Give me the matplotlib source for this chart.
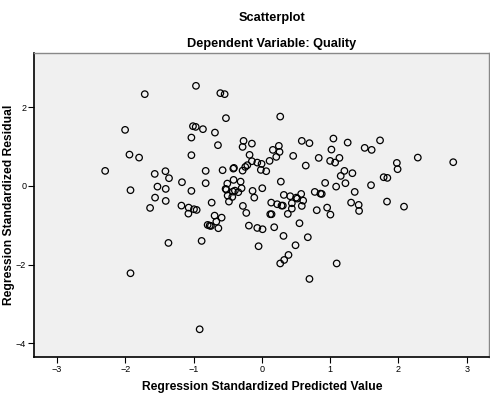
import matplotlib.pyplot as plt
import numpy as np

plt.rcParams['font.family'] = ['Liberation Sans', 'DejaVu Sans']

# regression standardized predicted values
pred = np.array([
    -1.715, -2.003, -1.939, -1.798, -2.295, -1.569, -1.412, -1.360, -1.170, -1.924,
    -1.529, -1.408, -1.564, -1.408, -1.637, -1.178, -1.924, -0.911, -1.368, -0.965,
    -0.608, -0.545, -0.526, 0.269, -1.009, -0.969, -0.863, -0.687, -1.032, -0.643,
    -0.268, -0.282, -0.146, -1.032, 0.249, 0.161, 0.259, 0.211, 0.459, -0.180,
    -0.146, -0.067, -0.004, 0.113, -0.213, -0.243, -0.282, -0.015, 0.064, -0.409,
    -0.418, -0.575, -0.823, -0.823, -1.032, -1.072, -1.076, -0.994, -0.955, -0.735,
    -0.506, -0.414, -0.311, -0.531, -0.520, -0.424, -0.395, -0.345, -0.297, -0.501,
    -0.433, -0.482, -0.136, 0.006, -0.111, -0.278, -0.228, -0.692, -0.589, -0.667,
    -0.794, -0.746, -0.765, -0.637, -0.882, -0.190, -0.067, 0.010, -0.048, 0.278,
    0.322, 0.415, 0.503, 0.137, 0.225, 0.288, 0.307, 0.439, 0.439, 0.123,
    0.142, 0.380, 0.181, 0.317, 0.493, 0.390, 0.327, 0.269, 0.551, 0.585,
    0.697, 1.048, 1.257, 1.731, 1.506, 1.608, 1.019, 0.833, 0.643, 1.000,
    1.073, 1.136, 1.209, 1.155, 1.326, 1.977, 1.988, 2.284, 1.784, 1.838,
    0.927, 1.088, 1.224, 1.599, 1.360, 0.576, 0.518, 0.605, 0.585, 0.775,
    0.858, 0.877, 0.804, 0.956, 1.004, 1.307, 1.418, 1.424, 1.833, 2.082,
    0.673, 1.096, 0.697, 2.803,
])

# regression standardized residuals
resid = np.array([
    2.333, 1.425, 0.796, 0.720, 0.382, 0.305, 0.374, 0.196, 0.094, -0.109,
    -0.018, -0.076, -0.298, -0.382, -0.560, -0.501, -2.221, -3.646, -1.450, 2.545,
    2.359, 2.333, 1.723, 1.763, 1.519, 1.501, 1.443, 1.356, 1.229, 1.036,
    1.145, 0.992, 1.076, 0.781, 1.018, 0.916, 0.865, 0.738, 0.763, 0.789,
    0.628, 0.593, 0.560, 0.636, 0.527, 0.483, 0.389, 0.407, 0.374, 0.458,
    0.440, 0.399, 0.382, 0.069, -0.127, -0.552, -0.705, -0.593, -0.611, -0.425,
    0.059, 0.153, 0.109, -0.076, -0.094, -0.145, -0.120, -0.160, -0.059, -0.247,
    -0.280, -0.399, -0.127, -0.059, -0.298, -0.509, -0.687, -0.756, -0.807, -0.908,
    -0.992, -1.018, -1.010, -1.076, -1.399, -1.010, -1.069, -1.102, -1.534, 0.109,
    -0.229, -0.262, -0.298, -0.425, -0.466, -0.501, -0.501, -0.440, -0.578, -0.720,
    -0.720, -0.712, -1.051, -1.272, -1.509, -1.756, -1.883, -1.972, -0.949, 1.145,
    1.087, 1.204, 1.102, 1.158, 0.967, 0.916, 0.924, 0.712, 0.517, 0.636,
    0.593, 0.712, 0.382, 0.254, 0.323, 0.585, 0.425, 0.720, 0.221, 0.204,
    0.076, -0.018, 0.069, 0.018, -0.153, -0.204, -0.323, -0.374, -0.509, -0.153,
    -0.196, -0.204, -0.618, -0.552, -0.730, -0.425, -0.483, -0.636, -0.399, -0.527,
    -1.305, -1.972, -2.366, 0.603,
])

xticks = [-3, -2, -1, 0, 1, 2, 3]
yticks = [-4, -2, 0, 2]

fig = plt.figure(figsize=(4.9, 3.94), dpi=100)
ax = fig.add_axes([0.0704, 0.094, 0.928, 0.7715])
ax.set_facecolor('#F0F0F0')

ax.scatter(pred, resid, s=22, facecolors='none', edgecolors='black', linewidths=0.9)

ax.set_xlim(-3.33, 3.33)
ax.set_ylim(-4.35, 3.38)
ax.set_xticks(xticks)
ax.set_yticks(yticks)
ax.tick_params(labelsize=6.5, length=4, width=0.8, pad=2)

for side in ['left', 'bottom']:
    ax.spines[side].set_color('black')
    ax.spines[side].set_linewidth(1.2)
for side in ['top', 'right']:
    ax.spines[side].set_color('#888888')
    ax.spines[side].set_linewidth(1.0)

ax.set_xlabel('Regression Standardized Predicted Value', fontsize=8.7, fontweight='bold', labelpad=5)
ax.set_ylabel('Regression Standardized Residual', fontsize=8.7, fontweight='bold', labelpad=1)

fig.text(0.5545, 0.955, 'Scatterplot', ha='center', va='center', fontsize=9.2, fontweight='bold')
fig.text(0.5545, 0.889, 'Dependent Variable: Quality', ha='center', va='center', fontsize=9.2, fontweight='bold')

fig.savefig('out.png', dpi=100)
